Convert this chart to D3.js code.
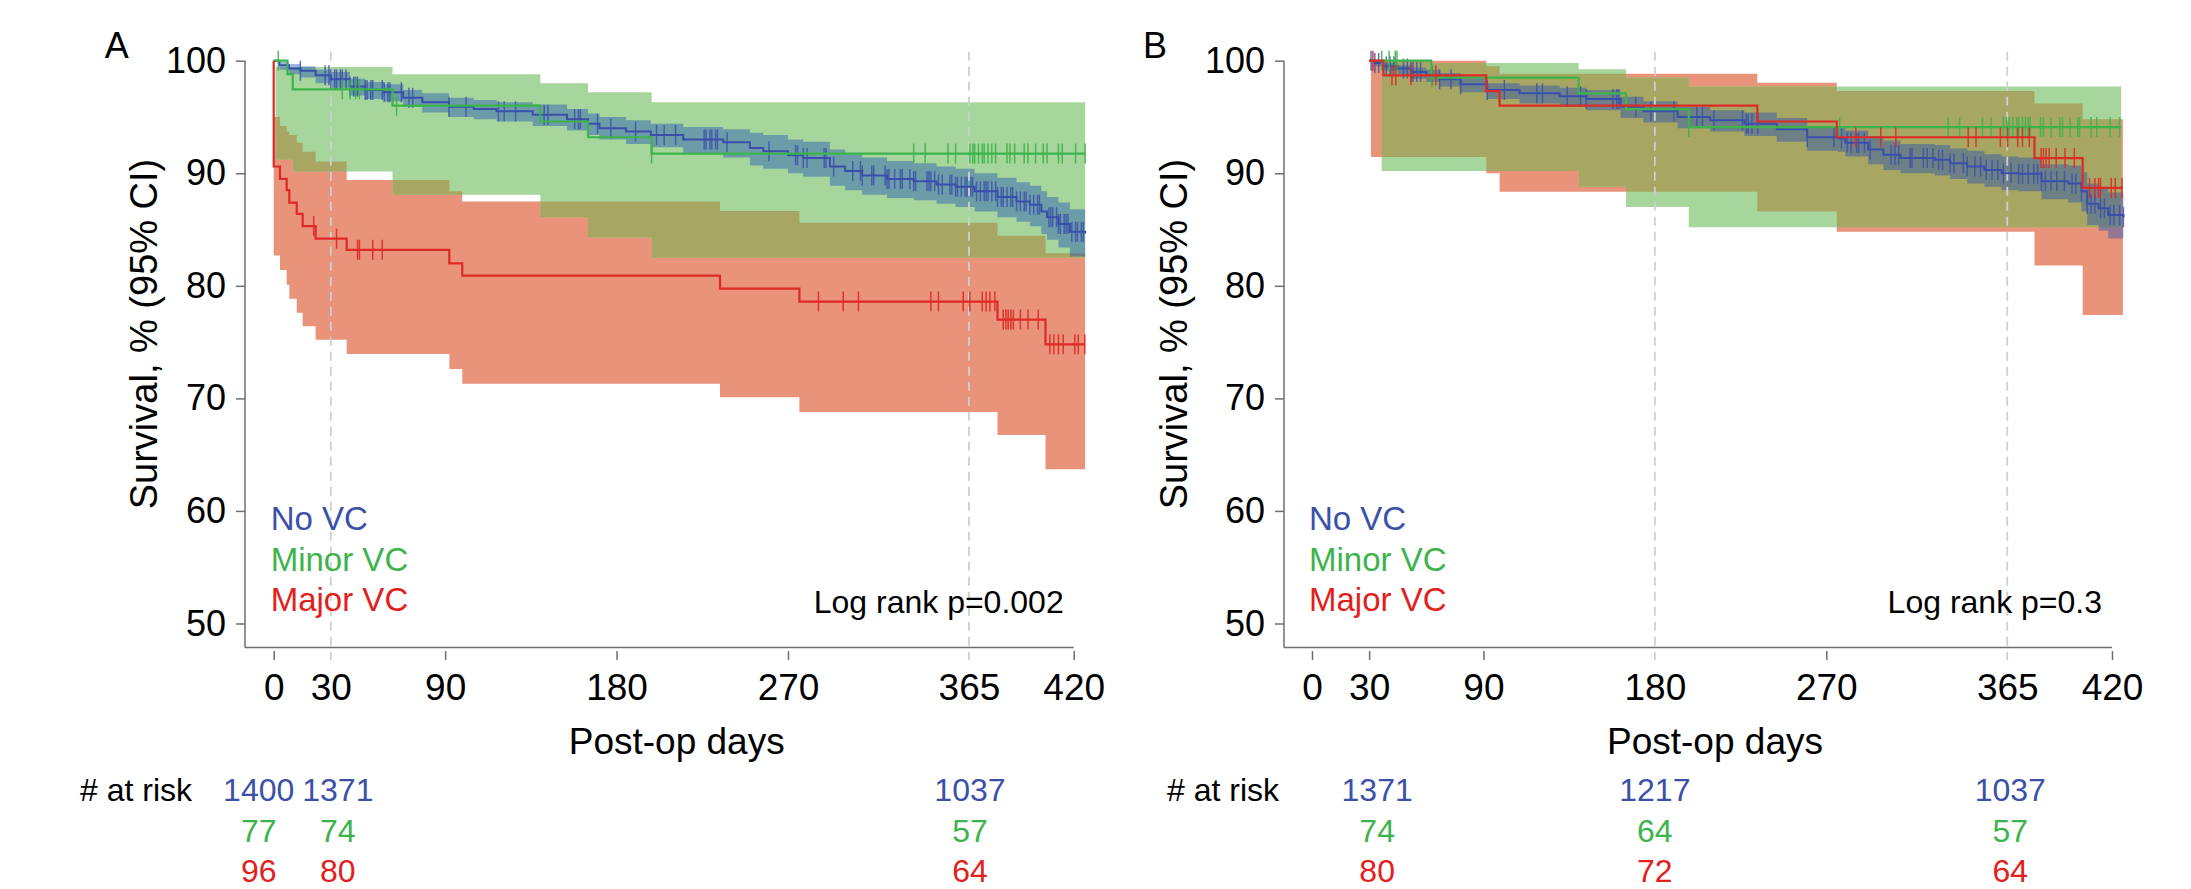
<!DOCTYPE html>
<meta charset="utf-8">
<style>
  body { margin: 0; background: #fff; }
  svg text { font-family: "Liberation Sans", Arial, Helvetica, sans-serif; }
  .axis path { display: none; }
  .axis line { stroke: #6e6e6e; stroke-width: 1.5; }
  .axis text { fill: #000; }
</style>
<svg width="2191" height="889"></svg>
<script src="https://d3js.org/d3.v7.min.js"></script>
<script>

// ---------- data, panel A (all patients) ----------
var noA_day  = [0, 3, 8, 14, 22, 30, 40, 48, 58, 68, 78, 92, 105, 117, 136, 154, 165, 171, 185, 198, 215, 236, 250, 257, 270, 278, 292, 300, 309, 322, 336, 348, 358, 368, 380, 390, 397, 403, 406, 412, 418, 426];
var noA_surv = [100, 99.6, 99.3, 99.1, 98.7, 98.35, 97.7, 97.4, 97.2, 96.7, 96.3, 95.9, 95.7, 95.5, 95.2, 94.8, 94.4, 94.0, 93.7, 93.4, 93.0, 92.75, 92.25, 91.95, 91.6, 91.35, 90.6, 90.2, 89.8, 89.5, 89.3, 89.0, 88.8, 88.4, 87.9, 87.5, 87.2, 86.6, 86.1, 85.5, 84.8, 84.65];
var noA_lo   = [100, 99.2, 98.8, 98.5, 98.0, 97.6, 96.9, 96.6, 96.4, 95.9, 95.4, 95.0, 94.8, 94.6, 94.2, 93.8, 93.4, 93.0, 92.6, 92.3, 91.8, 91.4, 90.7, 90.4, 90.0, 89.7, 88.9, 88.5, 88.1, 87.8, 87.6, 87.3, 87.0, 86.6, 86.1, 85.7, 85.3, 84.6, 84.1, 83.4, 82.6, 82.4];
var noA_hi   = [100, 99.9, 99.7, 99.5, 99.2, 99.0, 98.4, 98.1, 97.9, 97.4, 97.1, 96.7, 96.5, 96.3, 96.1, 95.7, 95.3, 95.0, 94.7, 94.4, 94.1, 93.9, 93.6, 93.4, 93.0, 92.8, 92.1, 91.7, 91.4, 91.1, 90.9, 90.6, 90.4, 90.0, 89.6, 89.2, 88.9, 88.4, 87.9, 87.4, 86.8, 86.7];
var noA_cens = [14, 27, 29, 30, 32, 33, 35, 36, 38, 40, 42, 43, 44, 48, 49, 51, 52, 57, 58, 60, 61, 67, 71, 73, 92, 101, 118, 121, 127, 142, 144, 158, 160, 161, 170, 177, 190, 201, 205, 211, 226, 227, 229, 230, 232, 233, 238, 260, 274, 275, 278, 280, 289, 290, 294, 304, 308, 309, 314, 315, 321, 322, 323, 326, 329, 330, 334, 336, 337, 343, 344, 345, 347, 349, 351, 355, 356, 358, 359, 361, 363, 364, 366, 367, 369, 371, 373, 374, 375, 377, 379, 380, 382, 383, 385, 387, 388, 390, 392, 394, 395, 397, 399, 401, 402, 407, 408, 409, 411, 412, 413, 415, 416, 417, 419, 421, 422, 424, 425];

var minorA_day   = [0, 7.2, 10, 62.4, 140, 165, 198.4, 426];
var minorA_surv  = [100, 98.8, 97.45, 96.0, 94.6, 93.2, 91.75, 91.75];
var minorA_ciDay = [1, 10, 62.4, 140, 165, 198.4, 426];
var minorA_lo    = [91.2, 90.15, 88.1, 86.1, 84.3, 82.5, 82.5];
var minorA_hi    = [99.45, 99.45, 98.8, 98.0, 97.2, 96.3, 96.3];
var minorA_cens  = [2.4, 36, 40, 43, 45, 64.5, 198.4, 336, 342, 354, 358, 365.5, 367, 368, 370, 372, 373, 375, 377, 379, 385, 386.5, 389, 394, 396, 400, 404, 406, 412, 414, 421, 426];

var majorA_day   = [0, 0, 3.3, 6.8, 8.2, 12.1, 15.2, 22, 38.3, 92.2, 99, 234.3, 276, 380, 405.2, 426];
var majorA_surv  = [100, 90.6, 89.5, 88.5, 87.4, 86.4, 85.3, 84.2, 83.2, 82.0, 80.9, 79.75, 78.6, 77.0, 74.8, 74.8];
var majorA_ciDay = [0, 3.3, 6.8, 8.2, 12.1, 15.2, 22, 38.3, 92.2, 99, 234.3, 276, 380, 405.2, 426];
var majorA_lo    = [82.7, 81.4, 80.1, 78.85, 77.6, 76.4, 75.2, 73.95, 72.6, 71.3, 70.1, 68.8, 66.75, 63.7, 63.7];
var majorA_hi    = [95.0, 94.2, 93.7, 93.4, 92.7, 91.9, 91.05, 89.4, 88.4, 87.5, 86.65, 85.6, 84.45, 82.9, 82.9];
var majorA_cens  = [21, 33, 44, 45, 52, 57, 286, 299, 307, 345, 349, 362, 365.5, 372, 374, 376, 378.6, 383, 384.4, 385.6, 387, 388.3, 392, 396, 401.4, 407.5, 409.6, 412, 414.5, 420.6, 422.4, 425.8];

// ---------- data, panel B (30-day survivors) ----------
var noB_day  = [30, 33, 37, 45, 52, 60, 67, 78, 92, 109, 130, 144, 162, 174, 192, 209, 227, 244, 260, 276, 280, 292, 300, 309, 327, 335, 344, 353, 362, 371, 383, 397, 404, 407, 413, 418, 426];
var noB_surv = [100, 99.8, 99.5, 99.3, 99.0, 98.7, 98.35, 97.9, 97.4, 97.1, 96.85, 96.6, 95.9, 95.5, 95.0, 94.7, 94.4, 93.9, 93.2, 93.1, 92.7, 92.1, 91.65, 91.35, 91.2, 90.9, 90.6, 90.3, 90.0, 89.95, 89.3, 89.1, 88.4, 87.3, 86.9, 86.3, 86.1];
var noB_lo   = [100, 99.5, 99.1, 98.8, 98.4, 98.1, 97.7, 97.2, 96.6, 96.2, 95.9, 95.6, 94.9, 94.5, 94.0, 93.7, 93.3, 92.8, 92.0, 91.9, 91.5, 90.8, 90.3, 90.0, 89.8, 89.5, 89.1, 88.8, 88.5, 88.4, 87.7, 87.4, 86.6, 85.4, 84.9, 84.2, 83.9];
var noB_hi   = [100, 99.95, 99.8, 99.6, 99.4, 99.2, 98.9, 98.5, 98.0, 97.8, 97.6, 97.4, 96.8, 96.4, 95.9, 95.6, 95.4, 94.9, 94.2, 94.1, 93.8, 93.3, 92.9, 92.6, 92.5, 92.2, 92.0, 91.7, 91.5, 91.4, 90.8, 90.7, 90.1, 89.1, 88.8, 88.3, 88.2];
var noB_cens = [31, 33, 35, 39, 41, 43, 48, 50, 52, 53, 55, 57, 63, 67, 73, 78, 92, 101, 118, 121, 134, 141, 144, 158, 160, 161, 170, 178, 190, 202, 205, 211, 226, 228, 229, 231, 234, 260, 274, 278, 281, 283, 286, 287, 290, 293, 304, 306, 308, 314, 315, 321, 323, 326, 329, 331, 335, 337, 342, 344, 348, 351, 354, 357, 360, 363, 367, 371, 373, 376, 379, 381, 383, 385, 388, 391, 395, 399, 401, 404, 407, 409, 411, 414, 416, 419, 421, 424, 426];

var minorB_day   = [30, 62.6, 140, 164.9, 197.8, 424.8];
var minorB_surv  = [100, 98.5, 97.1, 95.7, 94.1, 94.1];
var minorB_ciDay = [36.6, 62.6, 140, 164.9, 197.8, 424.8];
var minorB_lo    = [90.2, 90.2, 88.8, 87.0, 85.2, 85.2];
var minorB_hi    = [100, 99.8, 99.24, 98.5, 97.7, 97.7];
var minorB_cens  = [36.6, 40.5, 43.7, 44.6, 62.9, 197.8, 277, 334, 340, 352, 356.5, 363, 364.6, 366, 368, 370, 371, 373, 374.6, 376, 377, 382.5, 384, 388, 392.6, 394, 398, 402, 403, 409, 412, 419, 424];

var majorB_day   = [30, 37.5, 91.5, 98.5, 233.8, 275.5, 379.3, 404.6, 425.7];
var majorB_surv  = [100, 98.7, 97.3, 96.0, 94.6, 93.2, 91.35, 88.7, 88.7];
var majorB_ciDay = [31, 91.5, 98.5, 233.8, 275.5, 379.3, 404.6, 425.7];
var majorB_lo    = [91.45, 90.0, 88.35, 86.6, 84.8, 81.8, 77.4, 77.4];
var majorB_hi    = [100, 99.5, 98.85, 98.05, 97.3, 96.2, 94.8, 94.8];
var majorB_cens  = [32, 42, 44, 52, 65, 285.5, 298.6, 306.5, 344.5, 348.6, 361.4, 365.2, 370.5, 373, 376.6, 382.8, 384, 385.4, 387, 390.7, 395.3, 400.2, 408.2, 411, 413, 414, 419.6, 421.7, 425.2];

// axes and tables
var xTicks = [0, 30, 90, 180, 270, 365, 420];
var yTicks = [50, 60, 70, 80, 90, 100];
var groups = ["No VC", "Minor VC", "Major VC"];

var riskDaysA  = [0, 30, 365];
var riskNoA    = [1400, 1371, 1037];
var riskMinorA = [77, 74, 57];
var riskMajorA = [96, 80, 64];

var riskDaysB  = [30, 180, 365];
var riskNoB    = [1371, 1217, 1037];
var riskMinorB = [74, 64, 57];
var riskMajorB = [80, 72, 64];

// colors
var lineCol = ["#3a4fab", "#3cb44b", "#de2a26"];
var textCol = ["#3b50a8", "#3cb44b", "#e3201b"];
var salmon = "#e8937a", lightGreen = "#a6d69c", olive = "#a8a663";

var svg = d3.select("svg");
var defs = svg.append("defs");

function stepVal(days, vals, t) {
  var i = d3.bisectRight(days, t) - 1;
  return vals[Math.max(0, i)];
}

function drawPanel(p) {
  var g = svg.append("g");
  var x = d3.scaleLinear().domain([0, 420]).range([p.x0, p.x0 + 800]);
  var y = d3.scaleLinear().domain([50, 100]).range([623.5, 60.7]);
  var axisBottomY = 647.6;

  var area = d3.area().curve(d3.curveStepAfter)
    .x(function(d) { return x(d[0]); })
    .y0(function(d) { return y(d[1]); })
    .y1(function(d) { return y(d[2]); });
  var line = d3.line().curve(d3.curveStepAfter)
    .x(function(d) { return x(d[0]); })
    .y(function(d) { return y(d[1]); });

  var redBand = d3.zip(p.major.ciDay, p.major.lo, p.major.hi);
  var greenBand = d3.zip(p.minor.ciDay, p.minor.lo, p.minor.hi);
  var blueBand = d3.zip(p.no.day, p.no.lo, p.no.hi);

  // confidence bands (olive = where red and green overlap)
  g.append("path").attr("d", area(redBand)).attr("fill", salmon);
  g.append("path").attr("d", area(greenBand)).attr("fill", lightGreen);
  defs.append("clipPath").attr("id", "clip" + p.id)
    .append("path").attr("d", area(greenBand));
  g.append("path").attr("d", area(redBand)).attr("fill", olive)
    .attr("clip-path", "url(#clip" + p.id + ")");
  g.append("path").attr("d", area(blueBand))
    .attr("fill", "#1c4cb7").attr("fill-opacity", 0.42);

  // reference lines
  g.selectAll(".ref").data(p.refs).enter().append("line")
    .attr("x1", function(d) { return x(d); }).attr("x2", function(d) { return x(d); })
    .attr("y1", 51.7).attr("y2", 660)
    .attr("stroke", "#cfcfcf").attr("stroke-width", 1.8)
    .attr("stroke-dasharray", "9,6");

  // axes
  g.append("line").attr("x1", p.yAxisX).attr("x2", p.yAxisX)
    .attr("y1", y(100)).attr("y2", axisBottomY)
    .attr("stroke", "#6e6e6e").attr("stroke-width", 1.5);
  g.append("line").attr("x1", p.yAxisX).attr("x2", x(420))
    .attr("y1", axisBottomY).attr("y2", axisBottomY)
    .attr("stroke", "#6e6e6e").attr("stroke-width", 1.5);

  var ya = g.append("g").attr("class", "axis")
    .attr("transform", "translate(" + p.yAxisX + ",0)")
    .call(d3.axisLeft(y).tickValues(yTicks).tickSize(9).tickPadding(10));
  ya.selectAll("text").style("font-size", "36px");

  var xa = g.append("g").attr("class", "axis")
    .attr("transform", "translate(0," + (axisBottomY + 3.5) + ")")
    .call(d3.axisBottom(x).tickValues(xTicks).tickSize(9).tickPadding(14));
  xa.selectAll("text").style("font-size", "37px");
  xa.selectAll(".tick line").filter(function(d) { return p.refs.indexOf(d) >= 0; }).remove();

  // survival lines + censoring ticks
  var series = [p.no, p.minor, p.major];
  series.forEach(function(s, i) {
    g.append("path").attr("d", line(d3.zip(s.day, s.surv)))
      .attr("fill", "none").attr("stroke", lineCol[i])
      .attr("stroke-width", i === 0 ? 2 : 2.2);
    g.selectAll(null).data(s.cens).enter().append("line")
      .attr("x1", function(d) { return x(d); }).attr("x2", function(d) { return x(d); })
      .attr("y1", function(d) { return y(stepVal(s.day, s.surv, d)) - 10; })
      .attr("y2", function(d) { return y(stepVal(s.day, s.surv, d)) + 10; })
      .attr("stroke", lineCol[i]).attr("stroke-width", 1.5)
      .attr("stroke-opacity", i === 0 ? 0.8 : 0.9);
  });

  // labels
  g.append("text").attr("x", p.x0 - 169).attr("y", 57.7)
    .style("font-size", "36px").text(p.id);
  g.append("text")
    .attr("transform", "translate(" + p.titleX + ",334) rotate(-90)")
    .attr("text-anchor", "middle").style("font-size", "38px")
    .text("Survival, % (95% CI)");
  g.append("text").attr("x", p.x0 + 403).attr("y", 754)
    .attr("text-anchor", "middle").style("font-size", "37px")
    .text("Post-op days");

  groups.forEach(function(name, i) {
    g.append("text").attr("x", p.x0 - 3).attr("y", 530 + i * 40.5)
      .style("font-size", "33px").attr("fill", textCol[i]).text(name);
  });
  g.append("text").attr("x", p.x0 + 790).attr("y", 613)
    .attr("text-anchor", "end").style("font-size", "32px").text(p.logrank);

  // numbers at risk
  var rowY = [801, 842, 882];
  g.append("text").attr("x", p.riskLabelX).attr("y", rowY[0])
    .style("font-size", "32px").text("# at risk");
  [p.riskNo, p.riskMinor, p.riskMajor].forEach(function(row, i) {
    g.selectAll(null).data(row).enter().append("text")
      .attr("x", function(d, j) { return x(p.riskDays[j]) + p.riskNudge[j]; })
      .attr("y", rowY[i])
      .attr("text-anchor", "middle").style("font-size", "32px")
      .attr("fill", textCol[i]).text(function(d) { return d; });
  });
}

drawPanel({
  id: "A", x0: 273.7, yAxisX: 245, titleX: 157, riskLabelX: 80,
  refs: [30, 365], logrank: "Log rank p=0.002",
  no: { day: noA_day, surv: noA_surv, lo: noA_lo, hi: noA_hi, cens: noA_cens },
  minor: { day: minorA_day, surv: minorA_surv, ciDay: minorA_ciDay, lo: minorA_lo, hi: minorA_hi, cens: minorA_cens },
  major: { day: majorA_day, surv: majorA_surv, ciDay: majorA_ciDay, lo: majorA_lo, hi: majorA_hi, cens: majorA_cens },
  riskDays: riskDaysA, riskNudge: [-15, 7, 1],
  riskNo: riskNoA, riskMinor: riskMinorA, riskMajor: riskMajorA
});

drawPanel({
  id: "B", x0: 1312, yAxisX: 1284, titleX: 1187, riskLabelX: 1167,
  refs: [180, 365], logrank: "Log rank p=0.3",
  no: { day: noB_day, surv: noB_surv, lo: noB_lo, hi: noB_hi, cens: noB_cens },
  minor: { day: minorB_day, surv: minorB_surv, ciDay: minorB_ciDay, lo: minorB_lo, hi: minorB_hi, cens: minorB_cens },
  major: { day: majorB_day, surv: majorB_surv, ciDay: majorB_ciDay, lo: majorB_lo, hi: majorB_hi, cens: majorB_cens },
  riskDays: riskDaysB, riskNudge: [8, 0, 3],
  riskNo: riskNoB, riskMinor: riskMinorB, riskMajor: riskMajorB
});

</script>
